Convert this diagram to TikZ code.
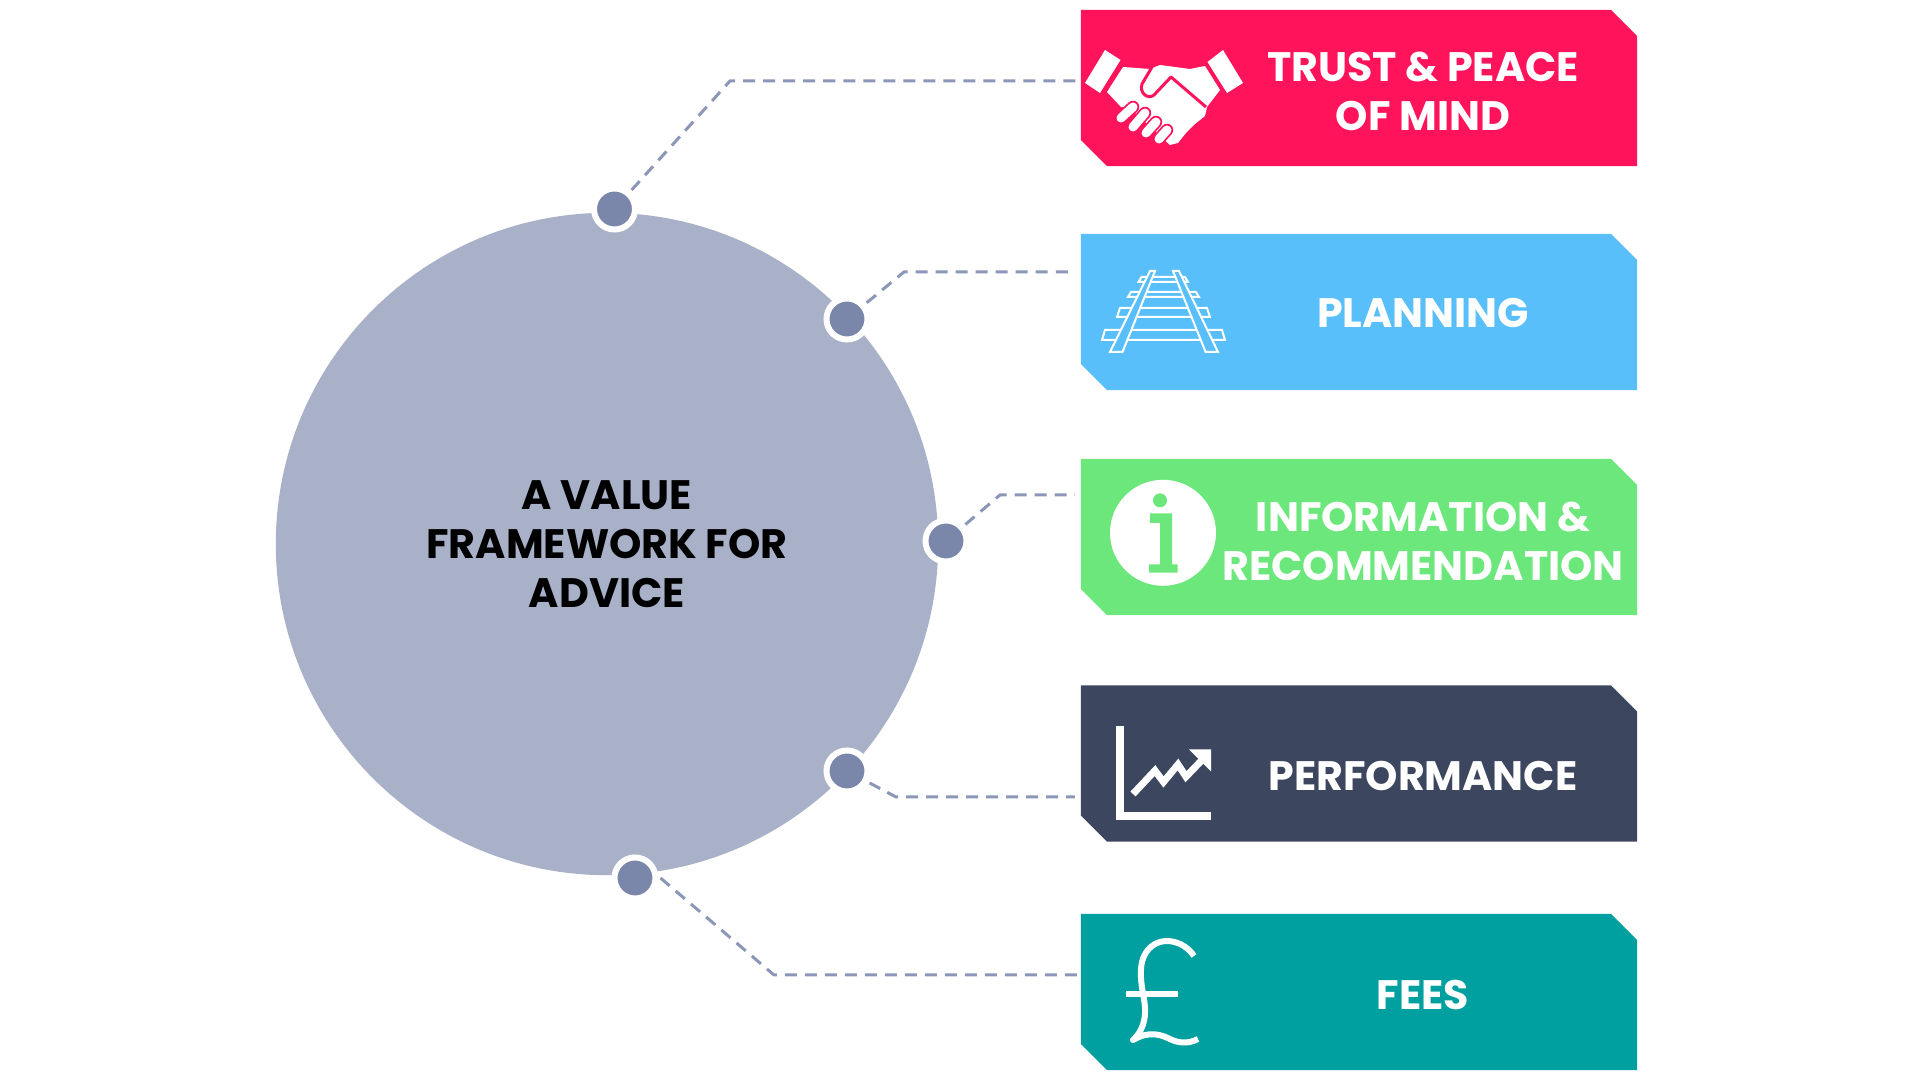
\documentclass[tikz,border=0pt]{standalone}
\usepackage{fontspec}
\setmainfont{Poppins}
\usepackage{xcolor}
\usetikzlibrary{positioning}

\definecolor{hubfill}{HTML}{A9B1C9}
\definecolor{dotfill}{HTML}{7B87AA}
\definecolor{dashcol}{HTML}{8C97B8}
\definecolor{trustcol}{HTML}{FF145C}
\definecolor{plancol}{HTML}{58BFFA}
\definecolor{infocol}{HTML}{6CE77B}
\definecolor{perfcol}{HTML}{3C465E}
\definecolor{feescol}{HTML}{009FA0}

\begin{document}
\begin{tikzpicture}[
  x=0.01cm, y=-0.01cm,
  banner/.style={rectangle, minimum width=5.56cm, minimum height=1.56cm, inner sep=0pt, outer sep=0pt},
  bannertext/.style={font=\fontsize{11.7}{13.9}\selectfont\bfseries, text=white, align=center, inner sep=0pt},
  hubdot/.style={circle, fill=dotfill, draw=white, line width=0.06cm, minimum size=0.41cm,
    inner sep=0pt, outer sep=0.05cm},
  link/.style={dashcol, line width=0.03cm, dash pattern=on 0.12cm off 0.08cm},
  linkshort/.style={link, shorten >=0.06cm},
  icon/.style={white, line width=0.02cm},
]
  \useasboundingbox (0,0) rectangle (1920,1080);

  % Main circle
  \node[circle, fill=hubfill, minimum size=6.62cm, inner sep=0pt, align=center, text=black,
        font=\fontsize{11.7}{13.9}\selectfont\bfseries] (hub) at (607,544)
    {A VALUE\\FRAMEWORK FOR\\ADVICE};

  % Dots on the circle
  \node[hubdot] (dottrust) at (614.5,209) {};
  \node[hubdot] (dotplan)  at (847,319) {};
  \node[hubdot] (dotinfo)  at (946,541) {};
  \node[hubdot] (dotperf)  at (847,771) {};
  \node[hubdot] (dotfees)  at (635,878) {};

  % Banners
  \node[banner] (trust) at (1359,88) {};
  \node[banner] (plan)  at (1359,312) {};
  \node[banner] (info)  at (1359,537) {};
  \node[banner] (perf)  at (1359,763.5) {};
  \node[banner] (fees)  at (1359,992) {};
  \foreach \b/\c in {trust/trustcol, plan/plancol, info/infocol, perf/perfcol, fees/feescol} {
    \fill[\c] (\b.north west) -- ([xshift=-0.26cm]\b.north east) -- ([yshift=-0.26cm]\b.north east)
      -- (\b.south east) -- ([xshift=0.26cm]\b.south west) -- ([yshift=0.26cm]\b.south west) -- cycle;
  }

  % Banner labels
  \node[bannertext] (trustlabel) at (1423,91) {TRUST \& PEACE\\OF MIND};
  \node[bannertext] (planlabel)  at (1423,313) {PLANNING};
  \node[bannertext] (infolabel)  at (1423,541.5) {INFORMATION \&\\RECOMMENDATION};
  \node[bannertext] (perflabel)  at (1423,776) {PERFORMANCE};
  \node[bannertext] (feeslabel)  at (1423,995.5) {FEES};

  % Connectors
  \coordinate (bendtrust) at (730,81);
  \coordinate (bendplan)  at (904,272);
  \coordinate (bendinfo)  at (1000,495);
  \coordinate (bendperf)  at (896,797);
  \coordinate (bendfees)  at (774,975);
  \draw[link] (dottrust) -- (bendtrust) -- (bendtrust -| trust.west);
  \draw[linkshort] (dotplan) -- (bendplan) -- (bendplan -| plan.west);
  \draw[linkshort] (dotinfo) -- (bendinfo) -- (bendinfo -| info.west);
  \draw[linkshort] (dotperf) -- (bendperf) -- (bendperf -| perf.west);
  \draw[link] (dotfees.east) -- (bendfees) -- (bendfees -| fees.west);

  % Handshake
  \fill[white] (1105,50) -- (1120.5,60) -- (1100,93) -- (1085,83) -- cycle;
  \fill[white] (1223,50) -- (1207.5,62) -- (1227,93) -- (1243,83) -- cycle;
  \fill[white] (1123,67) -- (1150,69) -- (1160,65) -- (1190,69) -- (1205,66) -- (1220,90)
    -- (1207,107) -- (1205,116) -- (1195,124) -- (1186,133) -- (1178,143) -- (1170,145)
    -- (1160,136) -- (1130,108) -- (1121,107) -- (1107,92) -- cycle;
  \draw[trustcol, line width=0.03cm, line join=round]
    (1152,67) -- (1142,84) .. controls (1139,93) and (1148,100) .. (1154,95) -- (1171,77) -- (1206,107);
  \foreach \xa/\ya/\xb/\yb in {1121/118/1133/107, 1133/127/1145/113, 1146/133/1156/122, 1159/139/1167/130} {
    \draw[trustcol, line width=0.125cm, line cap=round] (\xa,\ya) -- (\xb,\yb);
  }
  \foreach \xa/\ya/\xb/\yb in {1121/118/1133/107, 1133/127/1145/113, 1146/133/1156/122, 1159/139/1167/130} {
    \draw[white, line width=0.09cm, line cap=round] (\xa,\ya) -- (\xb,\yb);
  }

  % Railway
  \foreach \ya/\yb/\xl/\xr in {277/282/1138.5/1188, 292/297/1128/1199, 308/317/1117/1210, 330/340/1102/1225} {
    \draw[icon] (\xl+3,\ya) -- (\xr-3,\ya) -- (\xr,\yb) -- (\xl,\yb) -- cycle;
  }
  \draw[icon, fill=plancol] (1150,271) -- (1155,271) -- (1122.5,352) -- (1110,352) -- cycle;
  \draw[icon, fill=plancol] (1173,271) -- (1179,271) -- (1218,352) -- (1205.6,352) -- cycle;

  % Info sign
  \fill[white] (1163,532.8) circle[radius=53];
  \fill[infocol] (1160,500.4) circle[radius=7];
  \fill[infocol] (1150,513.5) -- (1172,513.5) -- (1172,564.5) -- (1177.6,564.5) -- (1177.6,572.7)
    -- (1149,572.7) -- (1149,564.5) -- (1160,564.5) -- (1160,523) -- (1150,523) -- cycle;

  % Chart
  \draw[white, line width=0.088cm] (1120,725.7) -- (1120,816) -- (1211,816);
  \draw[white, line width=0.07cm] (1133,794) -- (1155,770.6) -- (1163.5,782) -- (1178,764.5)
    -- (1186,776.7) -- (1203,759);
  \fill[white] (1189,749.4) -- (1211,749.4) -- (1211,771.4) -- cycle;

  % Pound
  \draw[white, line width=0.06cm, line join=round] (1194,956) .. controls (1185,942) and (1165,936) .. (1152,946)
    .. controls (1138,957) and (1140,976) .. (1143,994) .. controls (1147,1012) and (1146,1028) .. (1133,1040)
    .. controls (1150,1030) and (1162,1035) .. (1172,1040) .. controls (1182,1044) and (1190,1043) .. (1198,1039);
  \draw[white, line width=0.065cm] (1126,994) -- (1178,994);
\end{tikzpicture}
\end{document}
